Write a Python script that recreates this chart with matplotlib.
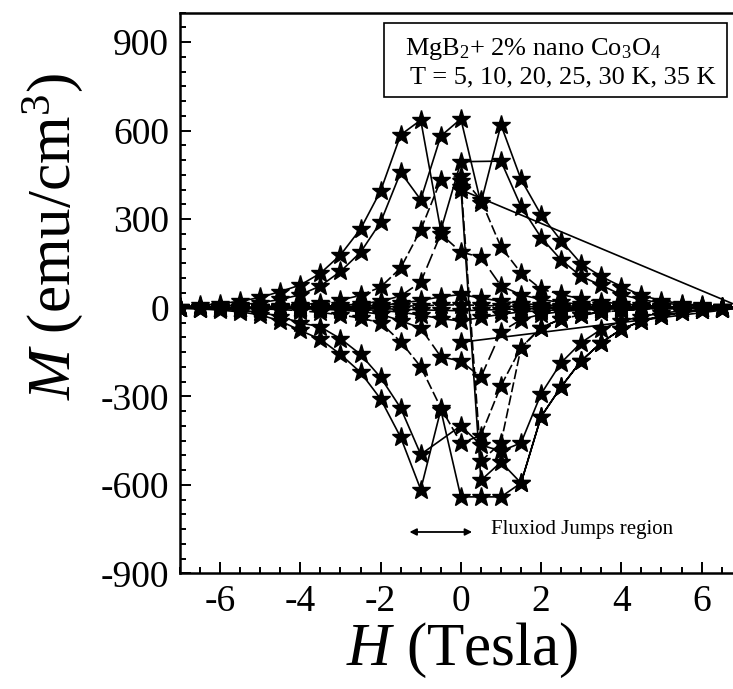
"""M-H hysteresis loops of MgB2 + 2% nano Co3O4 at 5-35 K (star markers,
flux-jump region near zero field)."""
import matplotlib
matplotlib.use("Agg")
import matplotlib.pyplot as plt
from matplotlib.ticker import MultipleLocator

plt.rcParams["font.family"] = ["Liberation Serif", "DejaVu Serif"]
plt.rcParams["mathtext.fontset"] = "custom"
plt.rcParams["mathtext.rm"] = "Liberation Serif"
plt.rcParams["mathtext.it"] = "Liberation Serif:italic"
plt.rcParams["axes.unicode_minus"] = False

# field sweeps (Tesla)
H_DOWN = [7, 6.5, 6, 5.5, 5, 4.5, 4, 3.5, 3, 2.5, 2, 1.5, 1, 0.5, 0,
          -0.5, -1, -1.5, -2, -2.5, -3, -3.5, -4, -4.5, -5, -5.5, -6, -6.5, -7]
H_UP = [-7, -6.5, -6, -5.5, -5, -4.5, -4, -3.5, -3, -2.5, -2, -1.5, -1, -0.5, 0,
        0.5, 1, 1.5, 2, 2.5, 3, 3.5, 4, 4.5, 5, 5.5, 6, 6.5, 7]
H_VIRGIN = [0, 0.5, 1, 1.5, 2, 2.5, 3, 3.5, 4, 4.5, 5, 5.5, 6, 6.5]

# 5 K
M5_VIRGIN = [410, -585, -523, -594, -369, -268, -180, -118, -73, -45, -28, -16, -9, -5]
M5_DOWN = [2, 4, 8, 14, 24, 42, 72, 106, 149, 227, 315, 435, 620, 354, 640,
           582, 366, 459, 290, 188, 123, 74, 44, 28, 17, 10, 6, 3, 1]
M5_UP = [-2, -4, -8, -14, -24, -45, -77, -107, -158, -219, -309, -439, -616, -346, -641,
         -641, -641, -594, -369, -268, -180, -118, -73, -45, -28, -16, -9, -5, -2]

# 10 K (no point at 0.5 T / -0.5 T on the respective branches)
H10_START, M10_START = [0], [400]
H10_DOWN = [7, 6.5, 6, 5.5, 5, 4.5, 4, 3.5, 3, 2.5, 2, 1.5, 1, 0,
            -0.5, -1, -1.5, -2, -2.5, -3, -3.5, -4, -4.5, -5, -5.5, -6, -6.5, -7]
M10_DOWN = [1, 3, 6, 10, 16, 28, 44, 76, 106, 162, 238, 343, 497, 495,
            262, 636, 586, 396, 267, 179, 117, 77, 55, 35, 22, 14, 8, 4]
H10_UP = [-7, -6.5, -6, -5.5, -5, -4.5, -4, -3.5, -3, -2.5, -2, -1.5, -1, 0,
          0.5, 1, 1.5, 2, 2.5, 3, 3.5, 4, 4.5, 5, 5.5, 6, 6.5, 7]
M10_UP = [-1, -3, -5, -9, -15, -30, -51, -65, -105, -158, -236, -340, -497, -400,
          -465, -486, -458, -292, -186, -118, -73, -45, -30, -18, -11, -6, -3, -1]

# 20 K
M20_VIRGIN = [430, -520, -458, -135, -67, -38, -24, -15, -9, -5, -3, -2, -1, 0]
M20_DOWN = [0, 1, 2, 3, 5, 8, 13, 20, 30, 45, 63, 118, 206, 365, 448,
            433, 264, 135, 70, 42, 26, 16, 10, 6, 4, 2, 1, 1, 0]
M20_UP = [0, -1, -1, -2, -4, -6, -10, -16, -24, -35, -51, -115, -200, -339, -458,
          -433, -264, -135, -67, -38, -24, -15, -9, -5, -3, -2, -1, -1, 0]

# 25 K
M25_DOWN = [0, 0, 1, 1, 2, 3, 5, 8, 12, 18, 28, 44, 74, 171, 189,
            250, 87, 40, 22, 13, 8, 5, 3, 2, 1, 1, 0, 0, 0]
M25_UP = [0, 0, 0, -1, -1, -2, -3, -5, -8, -13, -22, -44, -69, -166, -181,
          -235, -82, -40, -22, -13, -8, -5, -3, -2, -1, -1, 0, 0, 0]

# 30 K
H30_START, M30_START = [0], [-117]
M30_DOWN = [0, 0, 0, 1, 1, 2, 3, 4, 5, 7, 10, 14, 22, 33, 45,
            37, 25, 15, 9, 6, 4, 3, 2, 1, 1, 0, 0, 0, 0]
M30_UP = [0, 0, 0, 0, -1, -1, -2, -3, -4, -6, -9, -15, -25, -37, -45,
          -33, -22, -14, -10, -7, -5, -4, -3, -2, -1, -1, 0, 0, 0]

# 35 K
M35_DOWN = [0, 0, 0, 0, 0, 1, 1, 1, 2, 2, 3, 4, 6, 8, 10,
            9, 7, 5, 3, 2, 2, 1, 1, 1, 0, 0, 0, 0, 0]
M35_UP = [0, 0, 0, 0, 0, -1, -1, -1, -2, -2, -3, -5, -7, -9, -10,
          -8, -6, -4, -3, -2, -2, -1, -1, -1, 0, 0, 0, 0, 0]

LOOPS = [
    (H_VIRGIN + H_DOWN + H_UP, M5_VIRGIN + M5_DOWN + M5_UP, "-"),
    (H10_START + H10_DOWN + H10_UP, M10_START + M10_DOWN + M10_UP, "-"),
    (H_VIRGIN + H_DOWN + H_UP, M20_VIRGIN + M20_DOWN + M20_UP, (0, (6, 2))),
    (H_DOWN + H_UP, M25_DOWN + M25_UP, (0, (9, 3))),
    (H30_START + H_DOWN + H_UP, M30_START + M30_DOWN + M30_UP, "-"),
    (H_DOWN + H_UP, M35_DOWN + M35_UP, (0, (6, 2, 2, 2))),
]

W, H = 733, 689
fig = plt.figure(figsize=(W / 100, H / 100), dpi=100)
ax = fig.add_axes([180 / W, (H - 573.3) / H, 561.7 / W, 560.6 / H])

for hx, my, ls in LOOPS:
    ax.plot(hx, my, color="black", lw=1.2, ls=ls, marker="*", ms=14,
            mfc="black", mec="black")

ax.set_xlim(-7, 7)
ax.set_ylim(-900, 1000)
ax.xaxis.set_major_locator(MultipleLocator(2))
ax.xaxis.set_minor_locator(MultipleLocator(0.5))
ax.yaxis.set_major_locator(MultipleLocator(300))
ax.yaxis.set_minor_locator(MultipleLocator(50))
ax.tick_params(which="both", direction="in", top=False, right=False, width=1.4)
ax.tick_params(which="major", length=8, labelsize=27, pad=8)
ax.tick_params(which="minor", length=4)
for s in ax.spines.values():
    s.set_linewidth(1.8)

ax.set_xlabel(r"$\mathit{H}$ (Tesla)", fontsize=44)
ax.set_ylabel(r"$\mathit{M}$ (emu/cm$^3$)", fontsize=44)
ax.xaxis.set_label_coords(0.502, -0.085)
ax.yaxis.set_label_coords(-0.17, 0.60)

# sample / temperature box
box = plt.Rectangle((384 / W, 1 - 97 / H), (727 - 384) / W, (97 - 23) / H,
                    transform=fig.transFigure, fill=False, lw=1.2, color="black")
fig.add_artist(box)
fig.text(405 / W, 1 - 55 / H, "MgB$_2$+ 2% nano Co$_3$O$_4$", fontsize=19,
         va="baseline")
fig.text(410 / W, 1 - 83 / H, "T = 5, 10, 20, 25, 30 K, 35 K", fontsize=19,
         va="baseline")

ax.annotate("", xy=(-1.35, -760), xytext=(0.35, -760),
            arrowprops=dict(arrowstyle="<|-|>", color="black", lw=1.3,
                            mutation_scale=10))
ax.text(0.75, -750, "Fluxiod Jumps region", fontsize=15, va="center")

fig.savefig("out.png", dpi=100)
